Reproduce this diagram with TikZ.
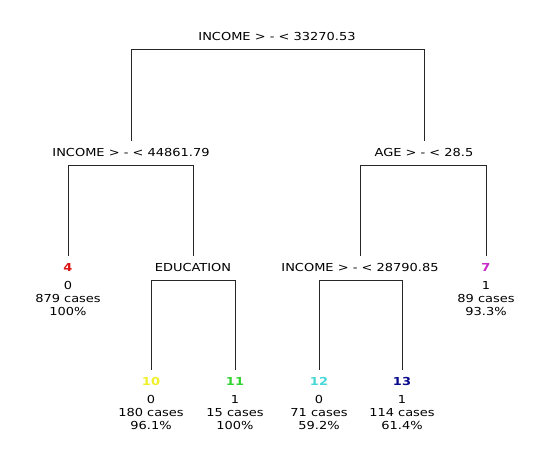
\documentclass[tikz,border=0pt]{standalone}
\usepackage{fontspec}
\setmainfont[FakeStretch=1.18]{DejaVu Sans}
\begin{document}
\begin{tikzpicture}[x=1pt,y=-1pt,
  lbl/.style={inner sep=0pt, font=\fontsize{11}{13}\selectfont, anchor=center},
  num/.style={inner sep=0pt, font=\fontsize{11}{13}\selectfont\bfseries, anchor=center},
  info/.style={inner sep=0pt, font=\fontsize{11}{13}\selectfont, align=center, anchor=north},
  conn/.style={draw=black!85, line width=0.9pt}]
\useasboundingbox (0,0) rectangle (555,453);
\fill[white] (0,0) rectangle (555,453);
% splits
\node[lbl] (n1) at (277,36) {INCOME > - < 33270.53};
\node[lbl] (n2) at (131,152) {INCOME > - < 44861.79};
\node[lbl] (n3) at (424,152) {AGE > - < 28.5};
\node[lbl] (n5) at (193,267) {EDUCATION};
\node[lbl] (n6) at (360,267) {INCOME > - < 28790.85};
% leaves
\node[num, text={rgb,255:red,220;green,20;blue,20}] (n4) at (68,267) {4};
\node[info] (n4i) at (68,281) {0\\879 cases\\100\%};
\node[num, text={rgb,255:red,200;green,40;blue,200}] (n7) at (486,267) {7};
\node[info] (n7i) at (486,281) {1\\89 cases\\93.3\%};
\node[num, text={rgb,255:red,240;green,240;blue,40}] (n10) at (151,381) {10};
\node[info] (n10i) at (151,395) {0\\180 cases\\96.1\%};
\node[num, text={rgb,255:red,50;green,210;blue,50}] (n11) at (235,381) {11};
\node[info] (n11i) at (235,395) {1\\15 cases\\100\%};
\node[num, text={rgb,255:red,70;green,215;blue,215}] (n12) at (319,381) {12};
\node[info] (n12i) at (319,395) {0\\71 cases\\59.2\%};
\node[num, text={rgb,255:red,10;green,10;blue,140}] (n13) at (402,381) {13};
\node[info] (n13i) at (402,395) {1\\114 cases\\61.4\%};
% connectors
\draw[conn] ([yshift=7pt]n2.north) |- ([yshift=-9pt]n1.south) -| ([yshift=7pt]n3.north);
\draw[conn] ([yshift=7pt]n4.north) |- ([yshift=-9pt]n2.south) -| ([yshift=7pt]n5.north);
\draw[conn] ([yshift=7pt]n6.north) |- ([yshift=-9pt]n3.south) -| ([yshift=7pt]n7.north);
\draw[conn] ([yshift=7pt]n10.north) |- ([yshift=-9pt]n5.south) -| ([yshift=7pt]n11.north);
\draw[conn] ([yshift=7pt]n12.north) |- ([yshift=-9pt]n6.south) -| ([yshift=7pt]n13.north);
\end{tikzpicture}
\end{document}
